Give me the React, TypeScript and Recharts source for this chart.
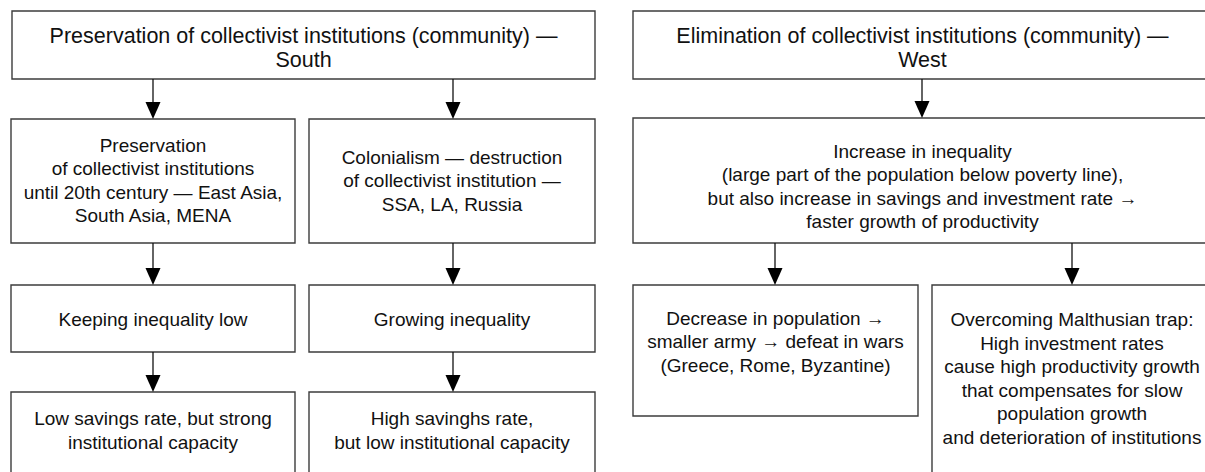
import React from "react";
import { ComposedChart, XAxis, YAxis, ReferenceArea, ReferenceLine, Scatter } from "recharts";

// Flowchart boxes in diagram units (0..1205 across, 0..472 down)
const boxTexts: string[][] = [
  ["Preservation of collectivist institutions (community) —", "South"],
  ["Preservation", "of collectivist institutions", "until 20th century — East Asia,", "South Asia, MENA"],
  ["Colonialism — destruction", "of collectivist institution —", "SSA, LA, Russia"],
  ["Keeping inequality low"],
  ["Growing inequality"],
  ["Low savings rate, but strong", "institutional capacity"],
  ["High savinghs rate,", "but low institutional capacity"],
  ["Elimination of collectivist institutions (community) —", "West"],
  [
    "Increase in inequality",
    "(large part of the population below poverty line),",
    "but also increase in savings and investment rate →",
    "faster growth of productivity",
  ],
  ["Decrease in population →", "smaller army → defeat in wars", "(Greece, Rome, Byzantine)"],
  [
    "Overcoming Malthusian trap:",
    "High investment rates",
    "cause high productivity growth",
    "that compensates for slow",
    "population growth",
    "and deterioration of institutions",
  ],
];
const boxX0 = [12, 11, 309, 11, 309, 11, 309, 633, 633, 633, 932];
const boxX1 = [595, 295, 595, 295, 595, 295, 595, 1212, 1212, 918, 1212];
const boxY0 = [11, 119, 119, 285, 285, 392, 392, 11, 118, 285, 285];
const boxY1 = [79, 243, 243, 352, 352, 500, 500, 79, 243, 416, 520];
const textCenterY = [48, 180, 180, 318.5, 318.5, 430, 430, 48, 186, 341, 378];
const isTitle = [true, false, false, false, false, false, false, true, false, false, false];

// Arrows: x, from y, to y
const arrowX = [153, 453, 153, 453, 153, 453, 922, 775, 1072];
const arrowY0 = [79, 79, 243, 243, 352, 352, 79, 243, 243];
const arrowY1 = [119, 119, 285, 285, 392, 392, 118, 285, 285];

const W = 1205;
const H = 472;
const FONT = "'Liberation Sans', Arial, Helvetica, sans-serif";

const labelData = boxTexts.map((lines, i) => ({
  x: (boxX0[i] + boxX1[i]) / 2,
  y: textCenterY[i],
  lines,
  title: isTitle[i],
}));

const LabelShape = (props: any) => {
  const { cx, cy, payload } = props;
  const lines: string[] = payload.lines;
  const size = payload.title ? 21.5 : 19;
  const lh = payload.title ? 24 : 23.5;
  const start = cy - ((lines.length - 1) * lh) / 2;
  return (
    <text
      x={cx}
      y={start}
      textAnchor="middle"
      dominantBaseline="central"
      fontFamily={FONT}
      fontSize={size}
      fill="#111"
    >
      {lines.map((l, k) => (
        <tspan key={k} x={cx} y={start + k * lh} dominantBaseline="central">
          {l}
        </tspan>
      ))}
    </text>
  );
};

const ArrowShape = (props: any) => {
  const { x1, y1, x2, y2 } = props;
  const head = 17;
  const half = 7.5;
  return (
    <g>
      <line x1={x1} y1={y1} x2={x2} y2={y2 - head + 1} stroke="#111" strokeWidth={1.3} />
      <polygon points={`${x2 - half},${y2 - head} ${x2 + half},${y2 - head} ${x2},${y2}`} fill="#000" />
    </g>
  );
};

export default function App() {
  return (
    <div style={{ position: "absolute", left: 0, top: 0, width: W, height: H, background: "#fff" }}>
      <ComposedChart width={W} height={H} margin={{ top: 0, right: 0, bottom: 0, left: 0 }}>
        <XAxis type="number" dataKey="x" domain={[0, W]} hide allowDataOverflow />
        <YAxis type="number" dataKey="y" domain={[0, H]} reversed hide allowDataOverflow />
        {boxTexts.map((_, i) => (
          <ReferenceArea
            key={`b${i}`}
            x1={boxX0[i]}
            x2={boxX1[i]}
            y1={boxY0[i]}
            y2={boxY1[i]}
            ifOverflow="visible"
            fill="#fff"
            fillOpacity={1}
            stroke="#3c3c3c"
            strokeWidth={1.4}
          />
        ))}
        {arrowX.map((x, i) => (
          <ReferenceLine
            key={`a${i}`}
            segment={[
              { x, y: arrowY0[i] },
              { x, y: arrowY1[i] },
            ]}
            ifOverflow="visible"
            shape={ArrowShape}
          />
        ))}
        <Scatter data={labelData} isAnimationActive={false} shape={LabelShape} />
      </ComposedChart>
    </div>
  );
}
